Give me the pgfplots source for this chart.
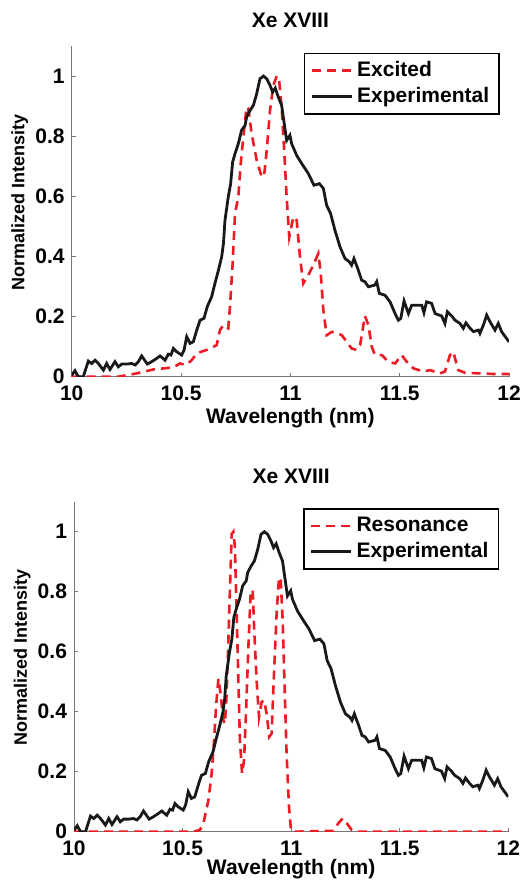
\documentclass[border=0pt]{standalone}
\usepackage{fontspec}
\setmainfont{Liberation Sans}
\usepackage{pgfplots}
\usepackage{pgfplotstable}
\pgfplotsset{compat=1.18}

\definecolor{exred}{RGB}{237,28,36}
\definecolor{axgray}{RGB}{120,120,120}

% experimental spectrum, shared by both panels
\pgfplotstableread{
x y
10.000 0.005
10.015 0.020
10.030 0.000
10.053 0.000
10.076 0.052
10.091 0.044
10.107 0.055
10.122 0.044
10.145 0.022
10.160 0.044
10.175 0.024
10.198 0.050
10.213 0.033
10.229 0.042
10.252 0.042
10.274 0.044
10.290 0.039
10.305 0.050
10.320 0.069
10.346 0.042
10.366 0.050
10.389 0.061
10.404 0.069
10.427 0.055
10.442 0.075
10.454 0.072
10.465 0.094
10.480 0.083
10.503 0.072
10.514 0.089
10.526 0.133
10.541 0.111
10.556 0.116
10.572 0.155
10.587 0.188
10.605 0.194
10.620 0.233
10.640 0.266
10.655 0.310
10.671 0.354
10.686 0.399
10.694 0.443
10.701 0.520
10.716 0.598
10.727 0.642
10.736 0.714
10.747 0.742
10.762 0.775
10.777 0.820
10.793 0.836
10.800 0.864
10.816 0.886
10.831 0.903
10.846 0.941
10.861 0.991
10.877 1.000
10.892 0.991
10.907 0.969
10.919 0.947
10.931 0.960
10.945 0.930
10.960 0.903
10.971 0.847
10.983 0.786
10.998 0.803
11.006 0.775
11.029 0.736
11.052 0.709
11.082 0.676
11.108 0.637
11.133 0.642
11.151 0.626
11.166 0.570
11.184 0.543
11.204 0.487
11.227 0.432
11.250 0.393
11.270 0.382
11.280 0.371
11.291 0.393
11.311 0.354
11.326 0.321
11.341 0.316
11.357 0.299
11.387 0.305
11.395 0.316
11.407 0.277
11.433 0.271
11.456 0.249
11.479 0.210
11.494 0.188
11.505 0.194
11.520 0.252
11.540 0.210
11.555 0.238
11.578 0.238
11.601 0.238
11.611 0.213
11.623 0.249
11.646 0.244
11.662 0.210
11.692 0.202
11.707 0.177
11.718 0.216
11.738 0.202
11.753 0.188
11.776 0.177
11.791 0.161
11.803 0.179
11.822 0.161
11.837 0.150
11.860 0.155
11.867 0.144
11.883 0.172
11.898 0.205
11.913 0.183
11.936 0.155
11.951 0.177
11.966 0.150
12.000 0.116
}\expdata

\pgfplotstableread{
x y
10.000 0.000
10.099 0.000
10.213 0.000
10.297 0.011
10.373 0.024
10.465 0.031
10.495 0.044
10.523 0.039
10.549 0.055
10.572 0.078
10.617 0.089
10.663 0.105
10.678 0.155
10.694 0.172
10.716 0.161
10.724 0.233
10.736 0.377
10.747 0.543
10.762 0.598
10.773 0.709
10.785 0.797
10.800 0.897
10.808 0.891
10.823 0.808
10.846 0.720
10.869 0.664
10.880 0.670
10.892 0.753
10.907 0.886
10.922 0.969
10.938 1.000
10.948 0.991
10.960 0.897
10.971 0.764
10.983 0.598
10.995 0.465
11.014 0.532
11.029 0.520
11.044 0.399
11.059 0.310
11.082 0.338
11.105 0.371
11.128 0.410
11.139 0.343
11.151 0.221
11.166 0.138
11.189 0.149
11.212 0.146
11.235 0.138
11.258 0.116
11.280 0.094
11.303 0.089
11.319 0.105
11.341 0.202
11.357 0.172
11.372 0.100
11.387 0.072
11.418 0.072
11.448 0.050
11.479 0.044
11.509 0.072
11.532 0.050
11.562 0.028
11.608 0.017
11.639 0.022
11.684 0.011
11.707 0.017
11.730 0.072
11.745 0.083
11.768 0.022
11.799 0.013
11.867 0.011
11.928 0.009
12.000 0.009
}\excdata

\pgfplotstableread{
x y
10.000 0.000
10.550 0.000
10.580 0.006
10.596 0.028
10.619 0.105
10.634 0.194
10.645 0.305
10.654 0.416
10.665 0.510
10.675 0.460
10.688 0.371
10.695 0.360
10.703 0.460
10.711 0.637
10.718 0.804
10.726 0.992
10.734 1.000
10.741 0.948
10.749 0.726
10.757 0.504
10.764 0.305
10.774 0.194
10.783 0.238
10.792 0.394
10.803 0.615
10.814 0.804
10.823 0.804
10.830 0.671
10.841 0.504
10.852 0.382
10.864 0.432
10.875 0.438
10.887 0.394
10.899 0.316
10.910 0.327
10.921 0.527
10.933 0.726
10.944 0.848
10.952 0.837
10.961 0.704
10.969 0.504
10.979 0.261
10.990 0.083
10.999 0.006
11.010 0.000
11.194 0.003
11.217 0.028
11.237 0.044
11.256 0.028
11.279 0.006
11.302 0.000
12.000 0.000
}\resdata

\pgfplotsset{
  spec/.style={
    scale only axis,
    xmin=10, xmax=12, ymin=0, ymax=1.1,
    axis lines*=left,
    axis line style={axgray, line width=0.5pt},
    tick style={axgray, line width=0.5pt},
    tick align=inside,
    major tick length=2pt,
    xtick={10,10.5,11,11.5,12},
    ytick={0,0.2,0.4,0.6,0.8,1},
    /pgf/number format/assume math mode=true,
    ticklabel style={font=\bfseries\fontsize{10.5}{12}\selectfont},
    xticklabel style={yshift=-1pt},
    xlabel style={font=\bfseries\fontsize{10.5}{12}\selectfont},
    ylabel style={font=\bfseries\fontsize{9}{11}\selectfont,
      at={(axis description cs:-0.119,0.527)}, anchor=center},
    title style={font=\bfseries\fontsize{10.5}{12}\selectfont, yshift=-0.5pt},
    xlabel={Wavelength (nm)},
    ylabel={Normalized Intensity},
    title={Xe XVIII},
    legend style={at={(1,1)}, anchor=north east, xshift=-4.5pt, yshift=-3.3pt,
      draw=black, line width=0.9pt,
      font=\bfseries\fontsize{10.5}{12}\selectfont, cells={anchor=west}},
    legend image code/.code={\draw[#1] (0pt,0pt) -- (20pt,0pt);},
  },
  expline/.style={black!90, line width=1.4pt},
  simline/.style={exred, line width=1.3pt, dash pattern=on 4.5pt off 3pt},
}

\begin{document}
\begin{tikzpicture}
\useasboundingbox (0,0) rectangle (260pt,-441.5pt);

\begin{axis}[spec, at={(35.85pt,-188.35pt)}, anchor=south west,
    width=218.65pt, height=165.35pt,
    xlabel style={yshift=3pt}]
\addplot[simline] table {\excdata};
\addlegendentry{Excited}
\addplot[expline] table {\expdata};
\addlegendentry{Experimental}
\end{axis}

\begin{axis}[spec, at={(37pt,-415.85pt)}, anchor=south west,
    width=217.15pt, height=165pt,
    xlabel style={yshift=4.8pt}]
\addplot[simline] table {\resdata};
\addlegendentry{Resonance}
\addplot[expline] table {\expdata};
\addlegendentry{Experimental}
\end{axis}
\end{tikzpicture}
\end{document}
